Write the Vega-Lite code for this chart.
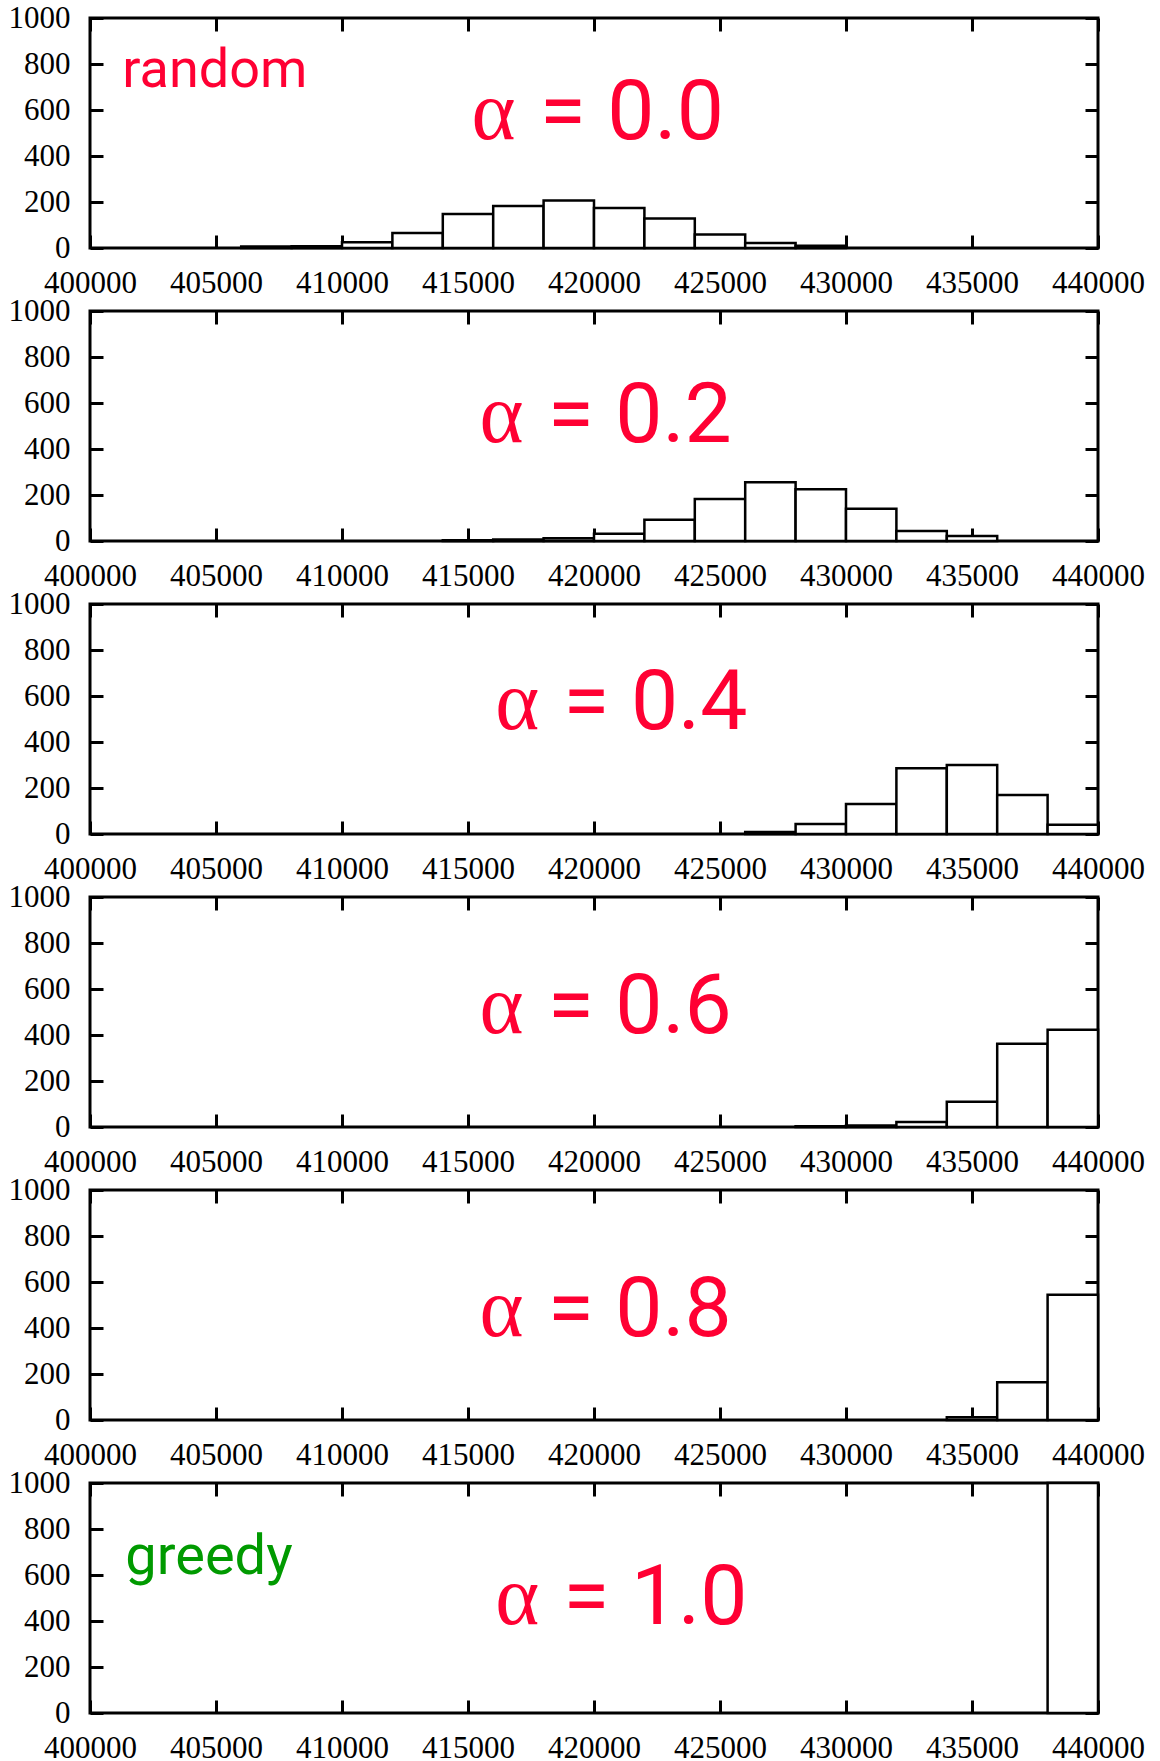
{
  "$schema": "https://vega.github.io/schema/vega-lite/v6.json",
  "background": "white",
  "padding": {"left": 6, "top": 0, "right": 0, "bottom": 0},
  "spacing": 63,
  "bounds": "flush",
  "config": {
    "view": {"stroke": "black", "strokeWidth": 3},
    "axis": {"labelFont": "Liberation Serif", "labelFontSize": 31, "labelColor": "black", "domain": false, "grid": false, "tickColor": "black", "tickWidth": 3, "tickSize": -13, "labelPadding": 33, "zindex": 2, "title": null, "labelOverlap": false, "labelFlush": false, "format": "d"},
    "text": {"color": "#ff0033"}
  },
  "datasets": {
    "hist": [
      {"panel": "0.0", "bin_start": 406000, "bin_end": 408000, "count": 6},
      {"panel": "0.0", "bin_start": 408000, "bin_end": 410000, "count": 8},
      {"panel": "0.0", "bin_start": 410000, "bin_end": 412000, "count": 25},
      {"panel": "0.0", "bin_start": 412000, "bin_end": 414000, "count": 65},
      {"panel": "0.0", "bin_start": 414000, "bin_end": 416000, "count": 148},
      {"panel": "0.0", "bin_start": 416000, "bin_end": 418000, "count": 183},
      {"panel": "0.0", "bin_start": 418000, "bin_end": 420000, "count": 207},
      {"panel": "0.0", "bin_start": 420000, "bin_end": 422000, "count": 174},
      {"panel": "0.0", "bin_start": 422000, "bin_end": 424000, "count": 128},
      {"panel": "0.0", "bin_start": 424000, "bin_end": 426000, "count": 59},
      {"panel": "0.0", "bin_start": 426000, "bin_end": 428000, "count": 22},
      {"panel": "0.0", "bin_start": 428000, "bin_end": 430000, "count": 10},
      {"panel": "0.2", "bin_start": 414000, "bin_end": 416000, "count": 3},
      {"panel": "0.2", "bin_start": 416000, "bin_end": 418000, "count": 7},
      {"panel": "0.2", "bin_start": 418000, "bin_end": 420000, "count": 12},
      {"panel": "0.2", "bin_start": 420000, "bin_end": 422000, "count": 32},
      {"panel": "0.2", "bin_start": 422000, "bin_end": 424000, "count": 92},
      {"panel": "0.2", "bin_start": 424000, "bin_end": 426000, "count": 183},
      {"panel": "0.2", "bin_start": 426000, "bin_end": 428000, "count": 255},
      {"panel": "0.2", "bin_start": 428000, "bin_end": 430000, "count": 225},
      {"panel": "0.2", "bin_start": 430000, "bin_end": 432000, "count": 140},
      {"panel": "0.2", "bin_start": 432000, "bin_end": 434000, "count": 43},
      {"panel": "0.2", "bin_start": 434000, "bin_end": 436000, "count": 22},
      {"panel": "0.4", "bin_start": 426000, "bin_end": 428000, "count": 9},
      {"panel": "0.4", "bin_start": 428000, "bin_end": 430000, "count": 43},
      {"panel": "0.4", "bin_start": 430000, "bin_end": 432000, "count": 130},
      {"panel": "0.4", "bin_start": 432000, "bin_end": 434000, "count": 286},
      {"panel": "0.4", "bin_start": 434000, "bin_end": 436000, "count": 300},
      {"panel": "0.4", "bin_start": 436000, "bin_end": 438000, "count": 170},
      {"panel": "0.4", "bin_start": 438000, "bin_end": 440000, "count": 40},
      {"panel": "0.6", "bin_start": 428000, "bin_end": 430000, "count": 3},
      {"panel": "0.6", "bin_start": 430000, "bin_end": 432000, "count": 7},
      {"panel": "0.6", "bin_start": 432000, "bin_end": 434000, "count": 22},
      {"panel": "0.6", "bin_start": 434000, "bin_end": 436000, "count": 110},
      {"panel": "0.6", "bin_start": 436000, "bin_end": 438000, "count": 362},
      {"panel": "0.6", "bin_start": 438000, "bin_end": 440000, "count": 423},
      {"panel": "0.8", "bin_start": 434000, "bin_end": 436000, "count": 12},
      {"panel": "0.8", "bin_start": 436000, "bin_end": 438000, "count": 164},
      {"panel": "0.8", "bin_start": 438000, "bin_end": 440000, "count": 545},
      {"panel": "1.0", "bin_start": 438000, "bin_end": 440000, "count": 1000}
    ]
  },
  "vconcat": [
    {
      "width": 1008, "height": 230,
      "layer": [
        {"data": {"name": "hist"}, "transform": [{"filter": "datum.panel == '0.0'"}],
         "mark": {"type": "bar", "fill": "white", "stroke": "black", "strokeWidth": 2.5},
         "encoding": {
           "x": {"field": "bin_start", "type": "quantitative", "scale": {"domain": [400000, 440000], "nice": false, "zero": false}, "axis": {"orient": "bottom", "values": [400000, 405000, 410000, 415000, 420000, 425000, 430000, 435000, 440000]}},
           "x2": {"field": "bin_end"},
           "y": {"field": "count", "type": "quantitative", "scale": {"domain": [0, 1000], "nice": false}, "axis": {"orient": "left", "values": [0, 200, 400, 600, 800, 1000]}},
           "y2": {"datum": 0}
         }},
        {"data": {"values": [{"label": "α"}]},
         "mark": {"type": "text", "font": "Liberation Serif", "fontSize": 84, "align": "right", "baseline": "alphabetic"},
         "encoding": {
           "x": {"datum": 416889, "type": "quantitative", "scale": {"domain": [400000, 440000], "nice": false, "zero": false}, "axis": {"orient": "top", "labels": false, "values": [400000, 405000, 410000, 415000, 420000, 425000, 430000, 435000, 440000]}},
           "y": {"datum": 475, "type": "quantitative", "scale": {"domain": [0, 1000], "nice": false}, "axis": {"orient": "right", "labels": false, "values": [0, 200, 400, 600, 800, 1000]}},
           "text": {"field": "label"}
         }},
        {"data": {"values": [{"label": "="}]},
         "mark": {"type": "text", "font": "Roboto", "fontSize": 84, "align": "center", "baseline": "alphabetic"},
         "encoding": {
           "x": {"datum": 418762, "type": "quantitative", "scale": {"domain": [400000, 440000], "nice": false, "zero": false}, "axis": null},
           "y": {"datum": 475, "type": "quantitative", "scale": {"domain": [0, 1000], "nice": false}, "axis": null},
           "text": {"field": "label"}
         }},
        {"data": {"values": [{"label": "0.0"}]},
         "mark": {"type": "text", "font": "Roboto", "fontSize": 84, "align": "left", "baseline": "alphabetic"},
         "encoding": {
           "x": {"datum": 420528, "type": "quantitative", "scale": {"domain": [400000, 440000], "nice": false, "zero": false}, "axis": null},
           "y": {"datum": 475, "type": "quantitative", "scale": {"domain": [0, 1000], "nice": false}, "axis": null},
           "text": {"field": "label"}
         }},
        {"data": {"values": [{"label": "random"}]},
         "mark": {"type": "text", "font": "Roboto", "fontSize": 54, "align": "left", "baseline": "alphabetic"},
         "encoding": {
           "x": {"datum": 401282, "type": "quantitative", "scale": {"domain": [400000, 440000], "nice": false, "zero": false}, "axis": null},
           "y": {"datum": 700, "type": "quantitative", "scale": {"domain": [0, 1000], "nice": false}, "axis": null},
           "text": {"field": "label"}
         }}
      ],
      "resolve": {"axis": {"x": "independent", "y": "independent"}}
    },
    {
      "width": 1008, "height": 230,
      "layer": [
        {"data": {"name": "hist"}, "transform": [{"filter": "datum.panel == '0.2'"}],
         "mark": {"type": "bar", "fill": "white", "stroke": "black", "strokeWidth": 2.5},
         "encoding": {
           "x": {"field": "bin_start", "type": "quantitative", "scale": {"domain": [400000, 440000], "nice": false, "zero": false}, "axis": {"orient": "bottom", "values": [400000, 405000, 410000, 415000, 420000, 425000, 430000, 435000, 440000]}},
           "x2": {"field": "bin_end"},
           "y": {"field": "count", "type": "quantitative", "scale": {"domain": [0, 1000], "nice": false}, "axis": {"orient": "left", "values": [0, 200, 400, 600, 800, 1000]}},
           "y2": {"datum": 0}
         }},
        {"data": {"values": [{"label": "α"}]},
         "mark": {"type": "text", "font": "Liberation Serif", "fontSize": 84, "align": "right", "baseline": "alphabetic"},
         "encoding": {
           "x": {"datum": 417202, "type": "quantitative", "scale": {"domain": [400000, 440000], "nice": false, "zero": false}, "axis": {"orient": "top", "labels": false, "values": [400000, 405000, 410000, 415000, 420000, 425000, 430000, 435000, 440000]}},
           "y": {"datum": 430, "type": "quantitative", "scale": {"domain": [0, 1000], "nice": false}, "axis": {"orient": "right", "labels": false, "values": [0, 200, 400, 600, 800, 1000]}},
           "text": {"field": "label"}
         }},
        {"data": {"values": [{"label": "="}]},
         "mark": {"type": "text", "font": "Roboto", "fontSize": 84, "align": "center", "baseline": "alphabetic"},
         "encoding": {
           "x": {"datum": 419075, "type": "quantitative", "scale": {"domain": [400000, 440000], "nice": false, "zero": false}, "axis": null},
           "y": {"datum": 430, "type": "quantitative", "scale": {"domain": [0, 1000], "nice": false}, "axis": null},
           "text": {"field": "label"}
         }},
        {"data": {"values": [{"label": "0.2"}]},
         "mark": {"type": "text", "font": "Roboto", "fontSize": 84, "align": "left", "baseline": "alphabetic"},
         "encoding": {
           "x": {"datum": 420841, "type": "quantitative", "scale": {"domain": [400000, 440000], "nice": false, "zero": false}, "axis": null},
           "y": {"datum": 430, "type": "quantitative", "scale": {"domain": [0, 1000], "nice": false}, "axis": null},
           "text": {"field": "label"}
         }}
      ],
      "resolve": {"axis": {"x": "independent", "y": "independent"}}
    },
    {
      "width": 1008, "height": 230,
      "layer": [
        {"data": {"name": "hist"}, "transform": [{"filter": "datum.panel == '0.4'"}],
         "mark": {"type": "bar", "fill": "white", "stroke": "black", "strokeWidth": 2.5},
         "encoding": {
           "x": {"field": "bin_start", "type": "quantitative", "scale": {"domain": [400000, 440000], "nice": false, "zero": false}, "axis": {"orient": "bottom", "values": [400000, 405000, 410000, 415000, 420000, 425000, 430000, 435000, 440000]}},
           "x2": {"field": "bin_end"},
           "y": {"field": "count", "type": "quantitative", "scale": {"domain": [0, 1000], "nice": false}, "axis": {"orient": "left", "values": [0, 200, 400, 600, 800, 1000]}},
           "y2": {"datum": 0}
         }},
        {"data": {"values": [{"label": "α"}]},
         "mark": {"type": "text", "font": "Liberation Serif", "fontSize": 84, "align": "right", "baseline": "alphabetic"},
         "encoding": {
           "x": {"datum": 417825, "type": "quantitative", "scale": {"domain": [400000, 440000], "nice": false, "zero": false}, "axis": {"orient": "top", "labels": false, "values": [400000, 405000, 410000, 415000, 420000, 425000, 430000, 435000, 440000]}},
           "y": {"datum": 455, "type": "quantitative", "scale": {"domain": [0, 1000], "nice": false}, "axis": {"orient": "right", "labels": false, "values": [0, 200, 400, 600, 800, 1000]}},
           "text": {"field": "label"}
         }},
        {"data": {"values": [{"label": "="}]},
         "mark": {"type": "text", "font": "Roboto", "fontSize": 84, "align": "center", "baseline": "alphabetic"},
         "encoding": {
           "x": {"datum": 419698, "type": "quantitative", "scale": {"domain": [400000, 440000], "nice": false, "zero": false}, "axis": null},
           "y": {"datum": 455, "type": "quantitative", "scale": {"domain": [0, 1000], "nice": false}, "axis": null},
           "text": {"field": "label"}
         }},
        {"data": {"values": [{"label": "0.4"}]},
         "mark": {"type": "text", "font": "Roboto", "fontSize": 84, "align": "left", "baseline": "alphabetic"},
         "encoding": {
           "x": {"datum": 421464, "type": "quantitative", "scale": {"domain": [400000, 440000], "nice": false, "zero": false}, "axis": null},
           "y": {"datum": 455, "type": "quantitative", "scale": {"domain": [0, 1000], "nice": false}, "axis": null},
           "text": {"field": "label"}
         }}
      ],
      "resolve": {"axis": {"x": "independent", "y": "independent"}}
    },
    {
      "width": 1008, "height": 230,
      "layer": [
        {"data": {"name": "hist"}, "transform": [{"filter": "datum.panel == '0.6'"}],
         "mark": {"type": "bar", "fill": "white", "stroke": "black", "strokeWidth": 2.5},
         "encoding": {
           "x": {"field": "bin_start", "type": "quantitative", "scale": {"domain": [400000, 440000], "nice": false, "zero": false}, "axis": {"orient": "bottom", "values": [400000, 405000, 410000, 415000, 420000, 425000, 430000, 435000, 440000]}},
           "x2": {"field": "bin_end"},
           "y": {"field": "count", "type": "quantitative", "scale": {"domain": [0, 1000], "nice": false}, "axis": {"orient": "left", "values": [0, 200, 400, 600, 800, 1000]}},
           "y2": {"datum": 0}
         }},
        {"data": {"values": [{"label": "α"}]},
         "mark": {"type": "text", "font": "Liberation Serif", "fontSize": 84, "align": "right", "baseline": "alphabetic"},
         "encoding": {
           "x": {"datum": 417202, "type": "quantitative", "scale": {"domain": [400000, 440000], "nice": false, "zero": false}, "axis": {"orient": "top", "labels": false, "values": [400000, 405000, 410000, 415000, 420000, 425000, 430000, 435000, 440000]}},
           "y": {"datum": 407, "type": "quantitative", "scale": {"domain": [0, 1000], "nice": false}, "axis": {"orient": "right", "labels": false, "values": [0, 200, 400, 600, 800, 1000]}},
           "text": {"field": "label"}
         }},
        {"data": {"values": [{"label": "="}]},
         "mark": {"type": "text", "font": "Roboto", "fontSize": 84, "align": "center", "baseline": "alphabetic"},
         "encoding": {
           "x": {"datum": 419075, "type": "quantitative", "scale": {"domain": [400000, 440000], "nice": false, "zero": false}, "axis": null},
           "y": {"datum": 407, "type": "quantitative", "scale": {"domain": [0, 1000], "nice": false}, "axis": null},
           "text": {"field": "label"}
         }},
        {"data": {"values": [{"label": "0.6"}]},
         "mark": {"type": "text", "font": "Roboto", "fontSize": 84, "align": "left", "baseline": "alphabetic"},
         "encoding": {
           "x": {"datum": 420841, "type": "quantitative", "scale": {"domain": [400000, 440000], "nice": false, "zero": false}, "axis": null},
           "y": {"datum": 407, "type": "quantitative", "scale": {"domain": [0, 1000], "nice": false}, "axis": null},
           "text": {"field": "label"}
         }}
      ],
      "resolve": {"axis": {"x": "independent", "y": "independent"}}
    },
    {
      "width": 1008, "height": 230,
      "layer": [
        {"data": {"name": "hist"}, "transform": [{"filter": "datum.panel == '0.8'"}],
         "mark": {"type": "bar", "fill": "white", "stroke": "black", "strokeWidth": 2.5},
         "encoding": {
           "x": {"field": "bin_start", "type": "quantitative", "scale": {"domain": [400000, 440000], "nice": false, "zero": false}, "axis": {"orient": "bottom", "values": [400000, 405000, 410000, 415000, 420000, 425000, 430000, 435000, 440000]}},
           "x2": {"field": "bin_end"},
           "y": {"field": "count", "type": "quantitative", "scale": {"domain": [0, 1000], "nice": false}, "axis": {"orient": "left", "values": [0, 200, 400, 600, 800, 1000]}},
           "y2": {"datum": 0}
         }},
        {"data": {"values": [{"label": "α"}]},
         "mark": {"type": "text", "font": "Liberation Serif", "fontSize": 84, "align": "right", "baseline": "alphabetic"},
         "encoding": {
           "x": {"datum": 417202, "type": "quantitative", "scale": {"domain": [400000, 440000], "nice": false, "zero": false}, "axis": {"orient": "top", "labels": false, "values": [400000, 405000, 410000, 415000, 420000, 425000, 430000, 435000, 440000]}},
           "y": {"datum": 365, "type": "quantitative", "scale": {"domain": [0, 1000], "nice": false}, "axis": {"orient": "right", "labels": false, "values": [0, 200, 400, 600, 800, 1000]}},
           "text": {"field": "label"}
         }},
        {"data": {"values": [{"label": "="}]},
         "mark": {"type": "text", "font": "Roboto", "fontSize": 84, "align": "center", "baseline": "alphabetic"},
         "encoding": {
           "x": {"datum": 419075, "type": "quantitative", "scale": {"domain": [400000, 440000], "nice": false, "zero": false}, "axis": null},
           "y": {"datum": 365, "type": "quantitative", "scale": {"domain": [0, 1000], "nice": false}, "axis": null},
           "text": {"field": "label"}
         }},
        {"data": {"values": [{"label": "0.8"}]},
         "mark": {"type": "text", "font": "Roboto", "fontSize": 84, "align": "left", "baseline": "alphabetic"},
         "encoding": {
           "x": {"datum": 420841, "type": "quantitative", "scale": {"domain": [400000, 440000], "nice": false, "zero": false}, "axis": null},
           "y": {"datum": 365, "type": "quantitative", "scale": {"domain": [0, 1000], "nice": false}, "axis": null},
           "text": {"field": "label"}
         }}
      ],
      "resolve": {"axis": {"x": "independent", "y": "independent"}}
    },
    {
      "width": 1008, "height": 230,
      "layer": [
        {"data": {"name": "hist"}, "transform": [{"filter": "datum.panel == '1.0'"}],
         "mark": {"type": "bar", "fill": "white", "stroke": "black", "strokeWidth": 2.5},
         "encoding": {
           "x": {"field": "bin_start", "type": "quantitative", "scale": {"domain": [400000, 440000], "nice": false, "zero": false}, "axis": {"orient": "bottom", "values": [400000, 405000, 410000, 415000, 420000, 425000, 430000, 435000, 440000]}},
           "x2": {"field": "bin_end"},
           "y": {"field": "count", "type": "quantitative", "scale": {"domain": [0, 1000], "nice": false}, "axis": {"orient": "left", "values": [0, 200, 400, 600, 800, 1000]}},
           "y2": {"datum": 0}
         }},
        {"data": {"values": [{"label": "α"}]},
         "mark": {"type": "text", "font": "Liberation Serif", "fontSize": 84, "align": "right", "baseline": "alphabetic"},
         "encoding": {
           "x": {"datum": 417825, "type": "quantitative", "scale": {"domain": [400000, 440000], "nice": false, "zero": false}, "axis": {"orient": "top", "labels": false, "values": [400000, 405000, 410000, 415000, 420000, 425000, 430000, 435000, 440000]}},
           "y": {"datum": 385, "type": "quantitative", "scale": {"domain": [0, 1000], "nice": false}, "axis": {"orient": "right", "labels": false, "values": [0, 200, 400, 600, 800, 1000]}},
           "text": {"field": "label"}
         }},
        {"data": {"values": [{"label": "="}]},
         "mark": {"type": "text", "font": "Roboto", "fontSize": 84, "align": "center", "baseline": "alphabetic"},
         "encoding": {
           "x": {"datum": 419698, "type": "quantitative", "scale": {"domain": [400000, 440000], "nice": false, "zero": false}, "axis": null},
           "y": {"datum": 385, "type": "quantitative", "scale": {"domain": [0, 1000], "nice": false}, "axis": null},
           "text": {"field": "label"}
         }},
        {"data": {"values": [{"label": "1.0"}]},
         "mark": {"type": "text", "font": "Roboto", "fontSize": 84, "align": "left", "baseline": "alphabetic"},
         "encoding": {
           "x": {"datum": 421464, "type": "quantitative", "scale": {"domain": [400000, 440000], "nice": false, "zero": false}, "axis": null},
           "y": {"datum": 385, "type": "quantitative", "scale": {"domain": [0, 1000], "nice": false}, "axis": null},
           "text": {"field": "label"}
         }},
        {"data": {"values": [{"label": "greedy"}]},
         "mark": {"type": "text", "font": "Roboto", "fontSize": 56, "color": "#009a00", "align": "left", "baseline": "alphabetic"},
         "encoding": {
           "x": {"datum": 401400, "type": "quantitative", "scale": {"domain": [400000, 440000], "nice": false, "zero": false}, "axis": null},
           "y": {"datum": 604, "type": "quantitative", "scale": {"domain": [0, 1000], "nice": false}, "axis": null},
           "text": {"field": "label"}
         }}
      ],
      "resolve": {"axis": {"x": "independent", "y": "independent"}}
    }
  ]
}
